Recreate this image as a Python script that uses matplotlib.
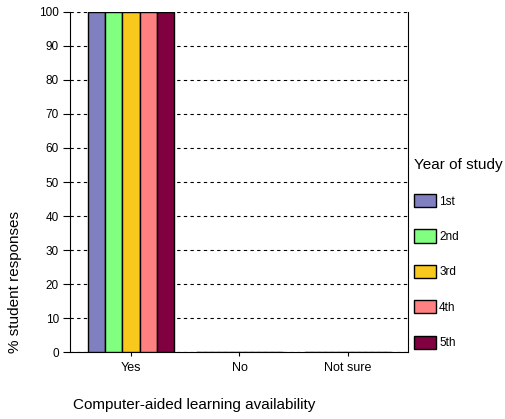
import numpy as np
import matplotlib
matplotlib.use('Agg')
import matplotlib.pyplot as plt
from matplotlib.patches import Patch

plt.rcParams['font.family'] = ['Liberation Sans', 'DejaVu Sans']

# data
categories = ['Yes', 'No', 'Not sure']
years = ['1st', '2nd', '3rd', '4th', '5th']
values = {
    '1st': [100, 0, 0],
    '2nd': [100, 0, 0],
    '3rd': [100, 0, 0],
    '4th': [100, 0, 0],
    '5th': [100, 0, 0],
}
colors = ['#8080C0', '#80FF80', '#F8C81C', '#FF8080', '#800040']

fig = plt.figure(figsize=(5.06, 4.19), dpi=100)
ax = fig.add_axes([70 / 506, 1 - 352 / 419, 338 / 506, 340 / 419])

x = np.arange(len(categories))
w = 0.16
for i, yr in enumerate(years):
    ax.bar(x + (i - 2) * w, values[yr], width=w, color=colors[i],
           edgecolor='black', linewidth=1.0, zorder=3)

ax.set_xlim(-0.562, 2.553)
ax.set_ylim(0, 100)
ax.set_yticks(range(0, 101, 10))
ax.set_xticks(x)
ax.set_xticklabels(categories, fontsize=9)
ax.tick_params(axis='y', labelsize=8.5, direction='out', length=5, pad=3)
ax.tick_params(axis='x', direction='out', length=3, pad=4)
ax.yaxis.grid(True, linestyle=(0, (3, 3)), color='black', linewidth=0.8, zorder=0)
ax.spines['top'].set_visible(False)

fig.text(15 / 506, 1 - 282 / 419, '% student responses', rotation=90,
         ha='center', va='center', fontsize=11)
fig.text(194 / 506, 1 - 405 / 419, 'Computer-aided learning availability',
         ha='center', va='center', fontsize=11)

handles = [Patch(facecolor=c, edgecolor='black') for c in colors]
leg = fig.legend(handles, years, title='Year of study', loc='upper left',
                 bbox_to_anchor=(402 / 506, 1 - 146 / 419), frameon=False,
                 fontsize=8.5, title_fontsize=11, labelspacing=1.85,
                 handlelength=1.85, handleheight=1.35, handletextpad=0.3,
                 borderpad=0.5)
leg._legend_box.align = 'left'
leg._legend_box.sep = 16

plt.savefig('out.png', dpi=100)
